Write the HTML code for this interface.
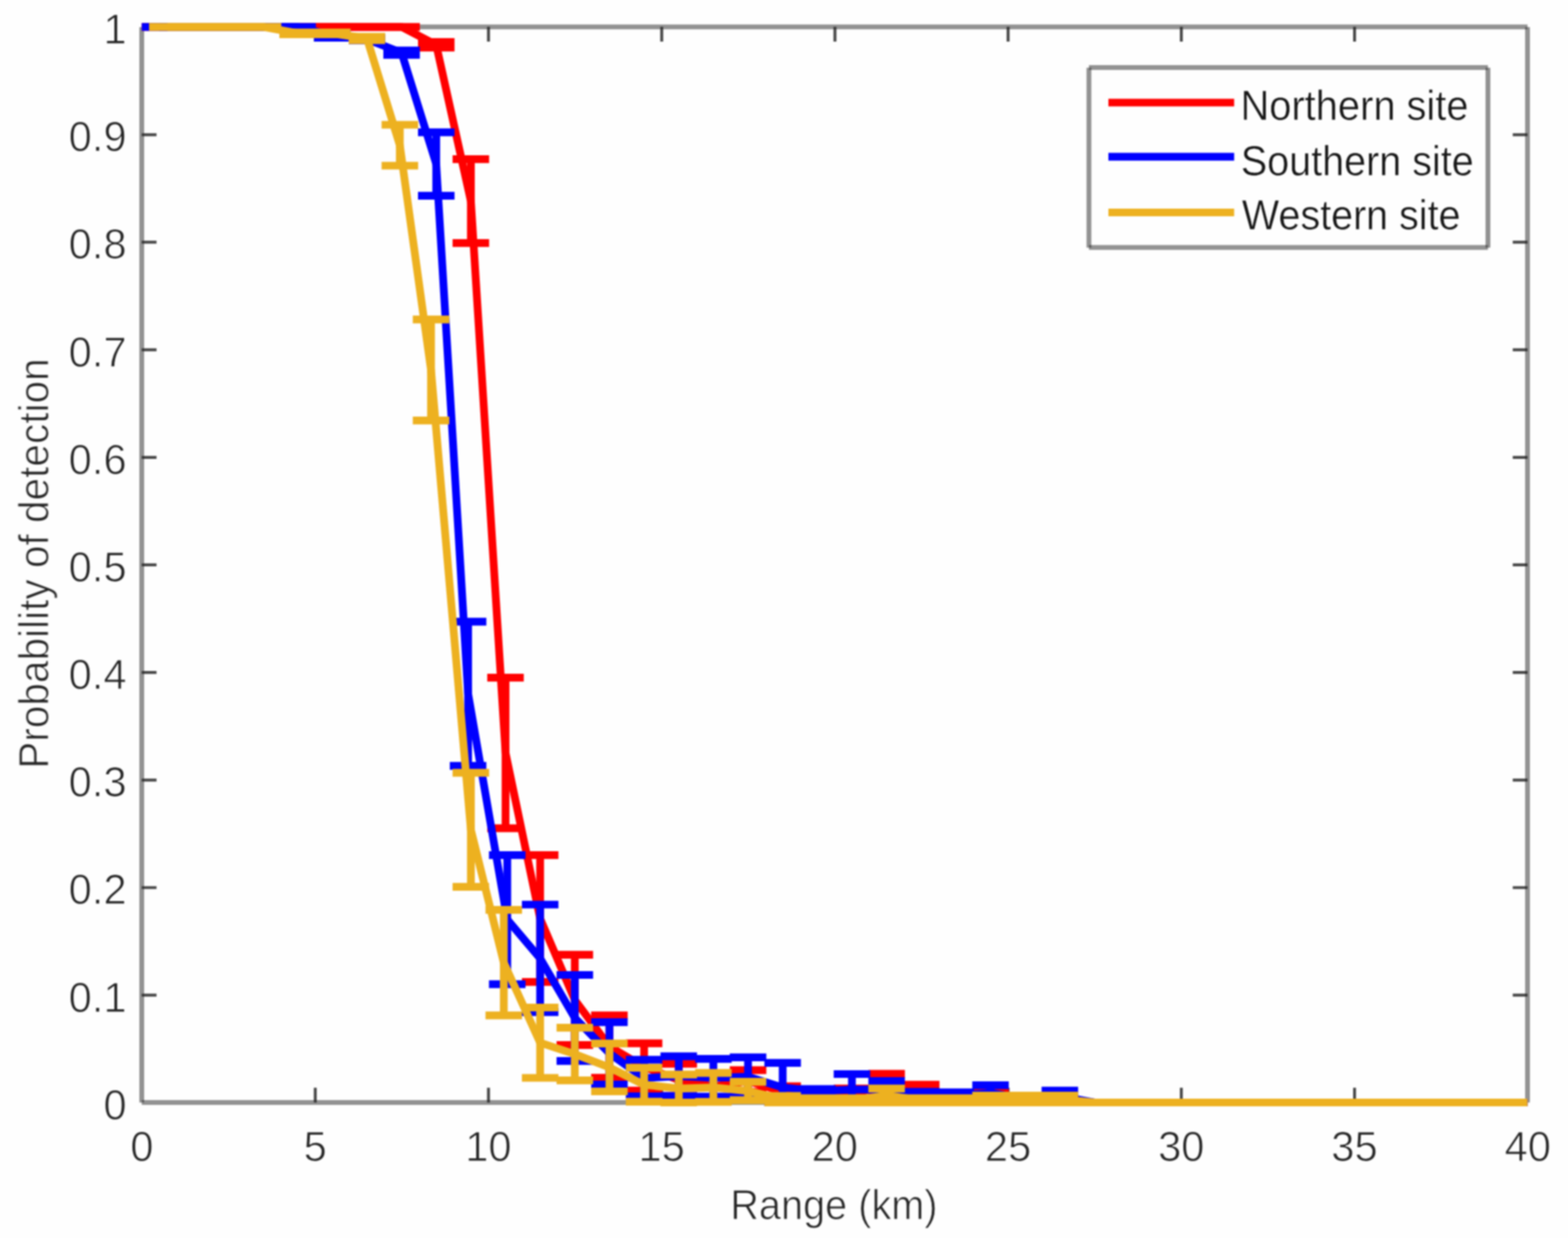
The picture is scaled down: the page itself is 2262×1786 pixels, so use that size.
<!DOCTYPE html>
<html lang="en">
<head>
<meta charset="utf-8">
<title>Probability of detection vs range</title>
<style>
html,body{margin:0;padding:0;background:#fefefe;}
body{width:2262px;height:1786px;overflow:hidden;}
svg{display:block;}
.soft{filter:blur(0.9px);}
</style>
</head>
<body>
<svg width="2262" height="1786" viewBox="0 0 2262 1786">
<rect width="2262" height="1786" fill="#fefefe"/>
<g class="soft">
<g fill="rgba(38,38,38,0.5)">
<rect x="201.05" y="39.10" width="6.9" height="1551.40"/>
<rect x="2200.15" y="39.10" width="6.9" height="1551.40"/>
<rect x="204.50" y="35.35" width="1999.10" height="6.9"/>
<rect x="204.50" y="1587.05" width="1999.10" height="6.9"/>
</g>
<path d="M454.8 1590.5v-21.3M454.8 38.8v21.3M704.7 1590.5v-21.3M704.7 38.8v21.3M954.6 1590.5v-21.3M954.6 38.8v21.3M1204.5 1590.5v-21.3M1204.5 38.8v21.3M1454.3 1590.5v-21.3M1454.3 38.8v21.3M1704.2 1590.5v-21.3M1704.2 38.8v21.3M1954.1 1590.5v-21.3M1954.1 38.8v21.3M204.5 1435.6h21.3M2203.6 1435.6h-21.3M204.5 1280.5h21.3M2203.6 1280.5h-21.3M204.5 1125.3h21.3M2203.6 1125.3h-21.3M204.5 970.1h21.3M2203.6 970.1h-21.3M204.5 814.9h21.3M2203.6 814.9h-21.3M204.5 659.8h21.3M2203.6 659.8h-21.3M204.5 504.6h21.3M2203.6 504.6h-21.3M204.5 349.4h21.3M2203.6 349.4h-21.3M204.5 194.3h21.3M2203.6 194.3h-21.3" stroke="#262626" stroke-opacity="0.85" stroke-width="4.2" fill="none"/>
<g fill="none" stroke="#ff0000" stroke-width="11.2">
<path d="M229.5 38.8V38.8M204.5 38.8H255.8M204.5 38.8H255.8M279.5 38.8V38.8M253.1 38.8H305.8M253.1 38.8H305.8M329.4 38.8V38.8M303.1 38.8H355.8M303.1 38.8H355.8M379.4 38.8V38.8M353.1 38.8H405.8M353.1 38.8H405.8M429.4 38.8V38.8M403.0 38.8H455.7M403.0 38.8H455.7M479.4 38.8V38.8M453.0 38.8H505.7M453.0 38.8H505.7M529.4 38.8V38.8M503.0 38.8H555.7M503.0 38.8H555.7M579.3 38.8V38.8M553.0 38.8H605.7M553.0 38.8H605.7M629.3 60.7V68.7M603.0 60.7H655.7M603.0 68.7H655.7M679.3 229.7V350.7M652.9 229.7H705.6M652.9 350.7H705.6M729.3 977.6V1194.8M702.9 977.6H755.6M702.9 1194.8H755.6M779.2 1233.6V1416.7M752.9 1233.6H805.6M752.9 1416.7H805.6M829.2 1377.3V1507.6M802.9 1377.3H855.6M802.9 1507.6H855.6M879.2 1464.8V1554.8M852.8 1464.8H905.5M852.8 1554.8H905.5M929.2 1505.2V1573.4M902.8 1505.2H955.5M902.8 1573.4H955.5M979.2 1534.6V1581.2M952.8 1534.6H1005.5M952.8 1581.2H1005.5M1029.1 1551.7V1582.7M1002.8 1551.7H1055.5M1002.8 1582.7H1055.5M1079.1 1543.9V1575.0M1052.8 1543.9H1105.5M1052.8 1575.0H1105.5M1129.1 1567.2V1582.7M1102.7 1567.2H1155.4M1102.7 1582.7H1155.4M1179.1 1575.0V1587.4M1152.7 1575.0H1205.4M1152.7 1587.4H1205.4M1229.0 1570.3V1585.8M1202.7 1570.3H1255.4M1202.7 1585.8H1255.4M1279.0 1549.1V1582.3M1252.7 1549.1H1305.4M1252.7 1582.3H1305.4M1329.0 1564.9V1585.1M1302.6 1564.9H1355.3M1302.6 1585.1H1355.3M1379.0 1579.6V1588.9M1352.6 1579.6H1405.3M1352.6 1588.9H1405.3M1428.9 1576.5V1588.9M1402.6 1576.5H1455.3M1402.6 1588.9H1455.3M1478.9 1584.3V1590.5M1452.6 1584.3H1505.3M1452.6 1590.5H1505.3M1528.9 1584.3V1590.5M1502.6 1584.3H1555.3M1502.6 1590.5H1555.3M1578.9 1590.5V1590.5M1552.5 1590.5H1605.2M1552.5 1590.5H1605.2M1628.9 1590.5V1590.5M1602.5 1590.5H1655.2M1602.5 1590.5H1655.2M1678.8 1590.5V1590.5M1652.5 1590.5H1705.2M1652.5 1590.5H1705.2M1728.8 1590.5V1590.5M1702.5 1590.5H1755.2M1702.5 1590.5H1755.2M1778.8 1590.5V1590.5M1752.4 1590.5H1805.1M1752.4 1590.5H1805.1M1828.8 1590.5V1590.5M1802.4 1590.5H1855.1M1802.4 1590.5H1855.1M1878.7 1590.5V1590.5M1852.4 1590.5H1905.1M1852.4 1590.5H1905.1M1928.7 1590.5V1590.5M1902.4 1590.5H1955.1M1902.4 1590.5H1955.1M1978.7 1590.5V1590.5M1952.4 1590.5H2005.1M1952.4 1590.5H2005.1M2028.7 1590.5V1590.5M2002.3 1590.5H2055.0M2002.3 1590.5H2055.0M2078.7 1590.5V1590.5M2052.3 1590.5H2105.0M2052.3 1590.5H2105.0M2128.6 1590.5V1590.5M2102.3 1590.5H2155.0M2102.3 1590.5H2155.0M2178.6 1590.5V1590.5M2152.3 1590.5H2203.6M2152.3 1590.5H2203.6"/>
<polyline stroke-linejoin="round" points="229.5,38.8 279.5,38.8 329.4,38.8 379.4,38.8 429.4,38.8 479.4,38.8 529.4,38.8 579.3,38.8 629.3,64.7 679.3,290.2 729.3,1086.2 779.2,1325.2 829.2,1442.5 879.2,1509.8 929.2,1539.3 979.2,1557.9 1029.1,1567.2 1079.1,1559.5 1129.1,1575.0 1179.1,1581.2 1229.0,1578.1 1279.0,1565.7 1329.0,1575.0 1379.0,1584.3 1428.9,1582.7 1478.9,1587.4 1528.9,1587.4 1578.9,1590.5 1628.9,1590.5 1678.8,1590.5 1728.8,1590.5 1778.8,1590.5 1828.8,1590.5 1878.7,1590.5 1928.7,1590.5 1978.7,1590.5 2028.7,1590.5 2078.7,1590.5 2128.6,1590.5 2178.6,1590.5"/>
</g>
<g fill="none" stroke="#0000ff" stroke-width="11.2">
<path d="M229.5 38.8V38.8M204.5 38.8H255.8M204.5 38.8H255.8M279.5 38.8V38.8M253.1 38.8H305.8M253.1 38.8H305.8M329.4 38.8V38.8M303.1 38.8H355.8M303.1 38.8H355.8M379.4 38.8V38.8M353.1 38.8H405.8M353.1 38.8H405.8M429.4 38.8V38.8M403.0 38.8H455.7M403.0 38.8H455.7M479.4 48.1V54.3M453.0 48.1H505.7M453.0 54.3H505.7M529.4 55.1V58.2M503.0 55.1H555.7M503.0 58.2H555.7M579.3 72.9V79.1M553.0 72.9H605.7M553.0 79.1H605.7M629.3 190.9V282.4M603.0 190.9H655.7M603.0 282.4H655.7M675.3 896.9V1104.8M648.9 896.9H701.6M648.9 1104.8H701.6M731.8 1233.6V1419.8M705.4 1233.6H758.1M705.4 1419.8H758.1M779.2 1305.0V1460.2M752.9 1305.0H805.6M752.9 1460.2H805.6M829.2 1406.5V1530.6M802.9 1406.5H855.6M802.9 1530.6H855.6M879.2 1474.6V1564.6M852.8 1474.6H905.5M852.8 1564.6H905.5M929.2 1528.9V1581.7M902.8 1528.9H955.5M902.8 1581.7H955.5M979.2 1523.8V1581.2M952.8 1523.8H1005.5M952.8 1581.2H1005.5M1029.1 1527.7V1582.0M1002.8 1527.7H1055.5M1002.8 1582.0H1055.5M1079.1 1525.3V1581.2M1052.8 1525.3H1105.5M1052.8 1581.2H1105.5M1129.1 1533.4V1590.5M1102.7 1533.4H1155.4M1102.7 1590.5H1155.4M1179.1 1571.1V1577.3M1152.7 1571.1H1205.4M1152.7 1577.3H1205.4M1229.0 1549.5V1590.5M1202.7 1549.5H1255.4M1202.7 1590.5H1255.4M1279.0 1559.5V1584.3M1252.7 1559.5H1305.4M1252.7 1584.3H1305.4M1329.0 1575.0V1587.4M1302.6 1575.0H1355.3M1302.6 1587.4H1355.3M1379.0 1575.8V1586.6M1352.6 1575.8H1405.3M1352.6 1586.6H1405.3M1428.9 1565.7V1587.4M1402.6 1565.7H1455.3M1402.6 1587.4H1455.3M1478.9 1581.2V1590.5M1452.6 1581.2H1505.3M1452.6 1590.5H1505.3M1528.9 1573.4V1588.9M1502.6 1573.4H1555.3M1502.6 1588.9H1555.3M1578.9 1590.5V1590.5M1552.5 1590.5H1605.2M1552.5 1590.5H1605.2M1628.9 1590.5V1590.5M1602.5 1590.5H1655.2M1602.5 1590.5H1655.2M1678.8 1590.5V1590.5M1652.5 1590.5H1705.2M1652.5 1590.5H1705.2M1728.8 1590.5V1590.5M1702.5 1590.5H1755.2M1702.5 1590.5H1755.2M1778.8 1590.5V1590.5M1752.4 1590.5H1805.1M1752.4 1590.5H1805.1M1828.8 1590.5V1590.5M1802.4 1590.5H1855.1M1802.4 1590.5H1855.1M1878.7 1590.5V1590.5M1852.4 1590.5H1905.1M1852.4 1590.5H1905.1M1928.7 1590.5V1590.5M1902.4 1590.5H1955.1M1902.4 1590.5H1955.1M1978.7 1590.5V1590.5M1952.4 1590.5H2005.1M1952.4 1590.5H2005.1M2028.7 1590.5V1590.5M2002.3 1590.5H2055.0M2002.3 1590.5H2055.0M2078.7 1590.5V1590.5M2052.3 1590.5H2105.0M2052.3 1590.5H2105.0M2128.6 1590.5V1590.5M2102.3 1590.5H2155.0M2102.3 1590.5H2155.0M2178.6 1590.5V1590.5M2152.3 1590.5H2203.6M2152.3 1590.5H2203.6"/>
<polyline stroke-linejoin="round" points="229.5,38.8 279.5,38.8 329.4,38.8 379.4,38.8 429.4,38.8 479.4,51.2 529.4,56.6 579.3,76.0 629.3,236.6 675.3,1000.9 731.8,1326.7 779.2,1382.6 829.2,1468.5 879.2,1519.6 929.2,1555.3 979.2,1552.5 1029.1,1554.8 1079.1,1553.3 1129.1,1568.8 1179.1,1574.2 1229.0,1571.9 1279.0,1571.9 1329.0,1581.2 1379.0,1581.2 1428.9,1576.5 1478.9,1585.8 1528.9,1581.2 1578.9,1590.5 1628.9,1590.5 1678.8,1590.5 1728.8,1590.5 1778.8,1590.5 1828.8,1590.5 1878.7,1590.5 1928.7,1590.5 1978.7,1590.5 2028.7,1590.5 2078.7,1590.5 2128.6,1590.5 2178.6,1590.5"/>
</g>
<g fill="none" stroke="#edb120" stroke-width="11.2">
<path d="M241.5 38.8V38.8M215.1 38.8H267.8M215.1 38.8H267.8M279.5 38.8V38.8M253.1 38.8H305.8M253.1 38.8H305.8M329.4 38.8V38.8M303.1 38.8H355.8M303.1 38.8H355.8M379.4 38.8V38.8M353.1 38.8H405.8M353.1 38.8H405.8M429.4 46.9V49.4M403.0 46.9H455.7M403.0 49.4H455.7M479.4 46.9V49.4M453.0 46.9H505.7M453.0 49.4H505.7M529.4 53.2V57.9M503.0 53.2H555.7M503.0 57.9H555.7M576.8 180.0V239.0M550.5 180.0H603.2M550.5 239.0H603.2M621.8 460.9V606.7M595.5 460.9H648.2M595.5 606.7H648.2M679.3 1114.9V1279.4M652.9 1114.9H705.6M652.9 1279.4H705.6M726.8 1312.7V1464.8M700.4 1312.7H753.1M700.4 1464.8H753.1M779.2 1453.5V1555.0M752.9 1453.5H805.6M752.9 1555.0H805.6M829.2 1482.7V1558.7M802.9 1482.7H855.6M802.9 1558.7H855.6M879.2 1505.3V1574.5M852.8 1505.3H905.5M852.8 1574.5H905.5M929.2 1540.4V1589.4M902.8 1540.4H955.5M902.8 1589.4H955.5M979.2 1550.2V1590.5M952.8 1550.2H1005.5M952.8 1590.5H1005.5M1029.1 1547.8V1589.7M1002.8 1547.8H1055.5M1002.8 1589.7H1055.5M1079.1 1560.6V1587.2M1052.8 1560.6H1105.5M1052.8 1587.2H1105.5M1129.1 1581.2V1590.5M1102.7 1581.2H1155.4M1102.7 1590.5H1155.4M1179.1 1584.3V1590.5M1152.7 1584.3H1205.4M1152.7 1590.5H1205.4M1229.0 1584.3V1590.5M1202.7 1584.3H1255.4M1202.7 1590.5H1255.4M1279.0 1570.3V1590.5M1252.7 1570.3H1305.4M1252.7 1590.5H1305.4M1329.0 1584.3V1590.5M1302.6 1584.3H1355.3M1302.6 1590.5H1355.3M1379.0 1584.3V1590.5M1352.6 1584.3H1405.3M1352.6 1590.5H1405.3M1428.9 1580.6V1590.5M1402.6 1580.6H1455.3M1402.6 1590.5H1455.3M1478.9 1580.6V1590.5M1452.6 1580.6H1505.3M1452.6 1590.5H1505.3M1528.9 1580.6V1590.5M1502.6 1580.6H1555.3M1502.6 1590.5H1555.3M1578.9 1590.5V1590.5M1552.5 1590.5H1605.2M1552.5 1590.5H1605.2M1628.9 1590.5V1590.5M1602.5 1590.5H1655.2M1602.5 1590.5H1655.2M1678.8 1590.5V1590.5M1652.5 1590.5H1705.2M1652.5 1590.5H1705.2M1728.8 1590.5V1590.5M1702.5 1590.5H1755.2M1702.5 1590.5H1755.2M1778.8 1590.5V1590.5M1752.4 1590.5H1805.1M1752.4 1590.5H1805.1M1828.8 1590.5V1590.5M1802.4 1590.5H1855.1M1802.4 1590.5H1855.1M1878.7 1590.5V1590.5M1852.4 1590.5H1905.1M1852.4 1590.5H1905.1M1928.7 1590.5V1590.5M1902.4 1590.5H1955.1M1902.4 1590.5H1955.1M1978.7 1590.5V1590.5M1952.4 1590.5H2005.1M1952.4 1590.5H2005.1M2028.7 1590.5V1590.5M2002.3 1590.5H2055.0M2002.3 1590.5H2055.0M2078.7 1590.5V1590.5M2052.3 1590.5H2105.0M2052.3 1590.5H2105.0M2128.6 1590.5V1590.5M2102.3 1590.5H2155.0M2102.3 1590.5H2155.0M2178.6 1590.5V1590.5M2152.3 1590.5H2203.6M2152.3 1590.5H2203.6"/>
<polyline stroke-linejoin="round" points="241.5,38.8 279.5,38.8 329.4,38.8 379.4,38.8 429.4,48.1 479.4,48.1 529.4,55.6 576.8,209.5 621.8,533.8 679.3,1197.1 726.8,1388.8 779.2,1504.2 829.2,1520.7 879.2,1539.9 929.2,1564.9 979.2,1570.3 1029.1,1568.8 1079.1,1573.9 1129.1,1585.8 1179.1,1587.4 1229.0,1587.4 1279.0,1580.4 1329.0,1587.4 1379.0,1587.4 1428.9,1585.5 1478.9,1585.5 1528.9,1585.5 1578.9,1590.5 1628.9,1590.5 1678.8,1590.5 1728.8,1590.5 1778.8,1590.5 1828.8,1590.5 1878.7,1590.5 1928.7,1590.5 1978.7,1590.5 2028.7,1590.5 2078.7,1590.5 2128.6,1590.5 2178.6,1590.5"/>
</g>
<rect x="1570.9" y="97.4" width="575.6" height="259.6" fill="#fefefe"/>
<g fill="rgba(38,38,38,0.5)">
<rect x="1567.45" y="97.70" width="6.9" height="259.60"/>
<rect x="2143.05" y="97.70" width="6.9" height="259.60"/>
<rect x="1570.90" y="93.95" width="575.60" height="6.9"/>
<rect x="1570.90" y="353.55" width="575.60" height="6.9"/>
</g>
<line x1="1599" x2="1780.4" y1="148.0" y2="148.0" stroke="#ff0000" stroke-width="11.2"/>
<line x1="1599" x2="1780.4" y1="226.2" y2="226.2" stroke="#0000ff" stroke-width="11.2"/>
<line x1="1599" x2="1780.4" y1="306.5" y2="306.5" stroke="#edb120" stroke-width="11.2"/>
<g font-family="'Liberation Sans', Arial, Helvetica, sans-serif" font-size="62" fill="#262626" stroke="#fefefe" stroke-width="1.1" stroke-linejoin="round">
<text x="1789.5" y="173.2" textLength="329" lengthAdjust="spacingAndGlyphs" fill="#161616" stroke-width="0.6">Northern site</text>
<text x="1790.0" y="253.2" textLength="336" lengthAdjust="spacingAndGlyphs" fill="#161616" stroke-width="0.6">Southern site</text>
<text x="1791.5" y="330.6" textLength="315.5" lengthAdjust="spacingAndGlyphs" fill="#161616" stroke-width="0.6">Western site</text>
<text transform="translate(204.8,1675.2) scale(0.97,1)" text-anchor="middle">0</text>
<text transform="translate(454.7,1675.2) scale(0.97,1)" text-anchor="middle">5</text>
<text transform="translate(704.6,1675.2) scale(0.97,1)" text-anchor="middle">10</text>
<text transform="translate(954.5,1675.2) scale(0.97,1)" text-anchor="middle">15</text>
<text transform="translate(1204.3,1675.2) scale(0.97,1)" text-anchor="middle">20</text>
<text transform="translate(1454.2,1675.2) scale(0.97,1)" text-anchor="middle">25</text>
<text transform="translate(1704.1,1675.2) scale(0.97,1)" text-anchor="middle">30</text>
<text transform="translate(1954.0,1675.2) scale(0.97,1)" text-anchor="middle">35</text>
<text transform="translate(2203.9,1675.2) scale(0.97,1)" text-anchor="middle">40</text>
<text transform="translate(182.6,1614.7) scale(0.97,1)" text-anchor="end">0</text>
<text transform="translate(182.6,1459.5) scale(0.97,1)" text-anchor="end">0.1</text>
<text transform="translate(182.6,1304.4) scale(0.97,1)" text-anchor="end">0.2</text>
<text transform="translate(182.6,1149.2) scale(0.97,1)" text-anchor="end">0.3</text>
<text transform="translate(182.6,994.0) scale(0.97,1)" text-anchor="end">0.4</text>
<text transform="translate(182.6,838.9) scale(0.97,1)" text-anchor="end">0.5</text>
<text transform="translate(182.6,683.7) scale(0.97,1)" text-anchor="end">0.6</text>
<text transform="translate(182.6,528.5) scale(0.97,1)" text-anchor="end">0.7</text>
<text transform="translate(182.6,373.3) scale(0.97,1)" text-anchor="end">0.8</text>
<text transform="translate(182.6,218.2) scale(0.97,1)" text-anchor="end">0.9</text>
<text transform="translate(182.6,63.0) scale(0.97,1)" text-anchor="end">1</text>
<text x="1053.5" y="1758.7" textLength="299" lengthAdjust="spacingAndGlyphs">Range (km)</text>
<text transform="translate(69.7,1109) rotate(-90)" textLength="592" lengthAdjust="spacingAndGlyphs">Probability of detection</text>
</g>
</g>
</svg>
</body>
</html>
